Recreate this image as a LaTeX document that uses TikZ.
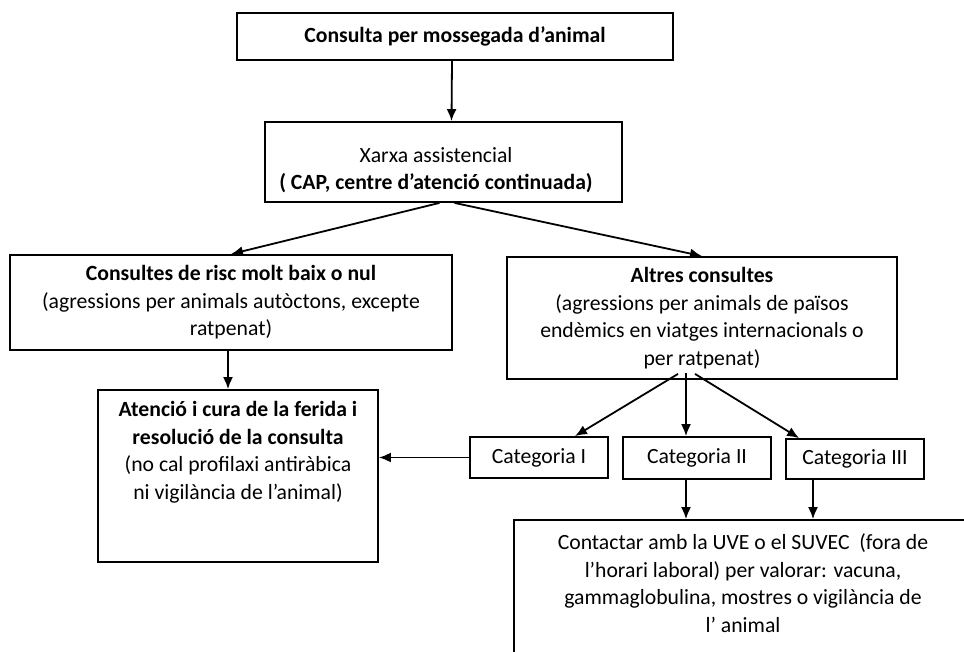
\documentclass[tikz,border=0pt]{standalone}
\usepackage{fontspec}
\setmainfont{Carlito}
\usetikzlibrary{calc, fit, positioning, arrows.meta}

\begin{document}
\begin{tikzpicture}[x=0.5pt,y=-0.5pt,>={Latex[length=6pt,width=5pt]},line width=0.9pt,
                    main box/.style={draw,align=center,inner sep=0pt,font=\fontsize{10.85}{13.75}\selectfont},
                    main text/.style={align=center,inner sep=0pt,font=\fontsize{10.85}{13.75}\selectfont}]
\useasboundingbox (0,0) rectangle (964,652);
\clip (0,0) rectangle (964,652);

\node[main box,minimum width=218pt,minimum height=23.5pt] (Consulta) at (455,36.5) {\textbf{Consulta per mossegada d’animal}};

\node (Xarxa) [draw,inner sep=0pt,fit={(265,122) (622,202)}] {};
\node[main text] (XarxaText) at (436,170) {Xarxa assistencial\\\textbf{( CAP, centre d’atenció continuada)}};

\node[main box,minimum width=221pt,minimum height=47.5pt] (RiscBaix) at (231,302.5) {\textbf{Consultes de risc molt baix o nul}\\(agressions per animals autòctons, excepte\\ratpenat)};
\node[main box,minimum width=195pt,minimum height=61pt] (Altres) at (702,318) {\textbf{Altres consultes}\\(agressions per animals de països\\endèmics en viatges internacionals o\\per ratpenat)};

\node (Atencio) [draw,inner sep=0pt,fit={(98,390) (378,562)}] {};
\node[main text] (AtencioText) at (238,452.5) {\textbf{Atenció i cura de la ferida i}\\\textbf{resolució de la consulta}\\(no cal profilaxi antiràbica\\ni vigilància de l’animal)};

\node[main box,minimum width=69pt,minimum height=20.5pt] (CatI) at (539,457.5) {Categoria I};
\node[main box,minimum width=74pt,minimum height=21pt] (CatII) at (697,458) {Categoria II};
\node[main box,minimum width=69pt,minimum height=20pt] (CatIII) at (855,459) {Categoria III};

\node (Contactar) [draw,inner sep=0pt,fit={(514,520) (1010,700)}] {};
\node[main text] (ContactarText) at (743,583) {Contactar amb la UVE o el SUVEC~~(fora de\\l’horari laboral) per valorar: vacuna,\\gammaglobulina, mostres o vigilància de\\l’ animal};

% start points of the arrows
\coordinate (RiscBaixOut) at ($(RiscBaix.south)+(-3,0)$);
\coordinate (CatIIOut) at ($(CatII.south)+(-11,0)$);
\coordinate (CatIIIOut) at ($(CatIII.south)+(-42,0)$);

\draw[->] ($(Consulta.south)+(-3,0)$) -- ($(Xarxa.north)+(8,0)$);
\draw[->] ($(Xarxa.south)+(-4,0)$) -- (RiscBaix.north);
\draw[->] ($(Xarxa.south)+(11,0)$) -- (Altres.north);
\draw[->] (RiscBaixOut) -- (RiscBaixOut |- Atencio.north);

\draw[->] ($(Altres.south)+(-24,-6)$) -- ($(CatI.north)+(36,0)$);
\draw[->] ($(Altres.south)+(-16,-7)$) -- ($(CatII.north)+(-11,0)$);
\draw[->] ($(Altres.south)+(-7,-6)$) -- ($(CatIII.north west)+(14,0)$);

\draw[->] (CatI.west) -- (CatI.west -| Atencio.east);
\draw[->] (CatIIOut) -- (CatIIOut |- Contactar.north);
\draw[->] (CatIIIOut) -- (CatIIIOut |- Contactar.north);
\end{tikzpicture}
\end{document}
